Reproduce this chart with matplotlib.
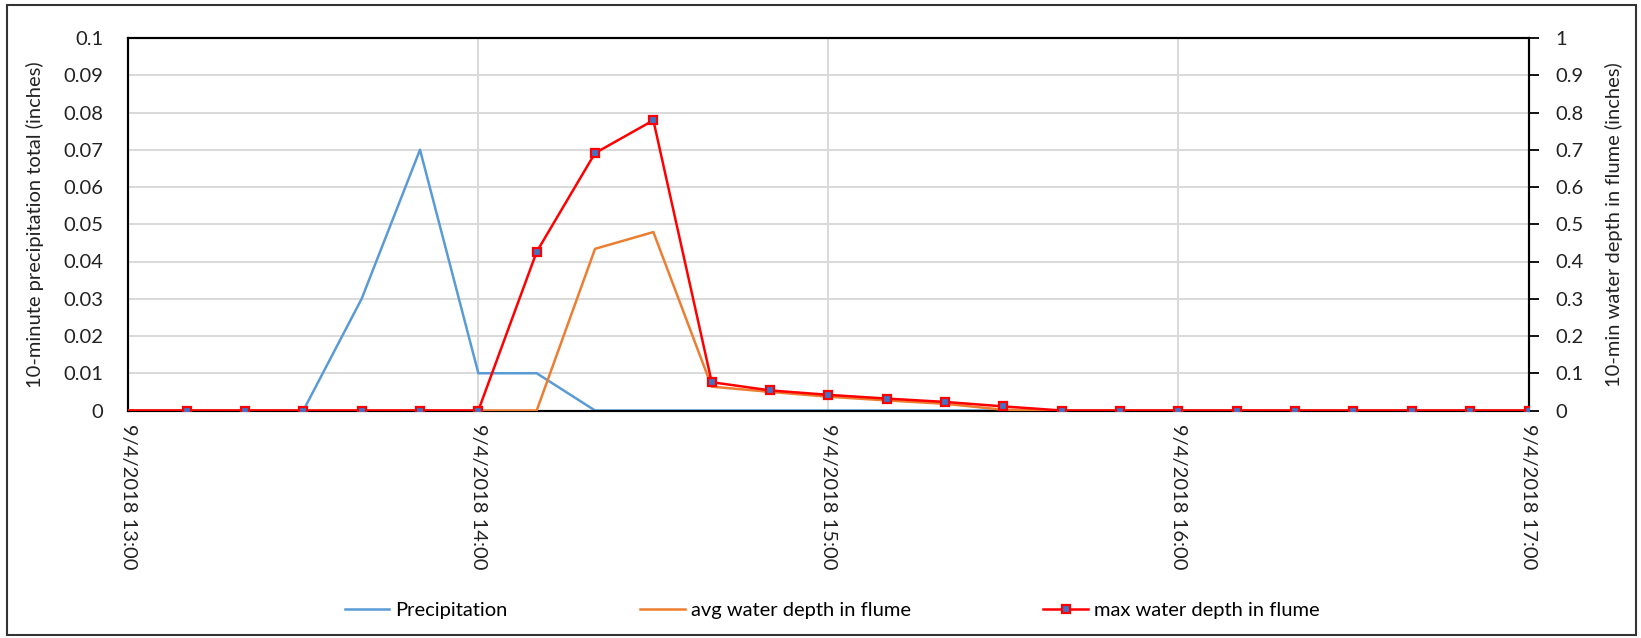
import matplotlib
matplotlib.use("Agg")
import matplotlib.pyplot as plt
import matplotlib.dates as mdates
from matplotlib.patches import Rectangle
import pandas as pd

times = ["2018-09-04 13:00", "2018-09-04 13:10", "2018-09-04 13:20", "2018-09-04 13:30",
         "2018-09-04 13:40", "2018-09-04 13:50", "2018-09-04 14:00", "2018-09-04 14:10",
         "2018-09-04 14:20", "2018-09-04 14:30", "2018-09-04 14:40", "2018-09-04 14:50",
         "2018-09-04 15:00", "2018-09-04 15:10", "2018-09-04 15:20", "2018-09-04 15:30",
         "2018-09-04 15:40", "2018-09-04 15:50", "2018-09-04 16:00", "2018-09-04 16:10",
         "2018-09-04 16:20", "2018-09-04 16:30", "2018-09-04 16:40", "2018-09-04 16:50",
         "2018-09-04 17:00"]
precipitation = [0, 0, 0, 0, 0.03, 0.07, 0.01, 0.01, 0, 0, 0, 0, 0,
                 0, 0, 0, 0, 0, 0, 0, 0, 0, 0, 0, 0]
avg_depth = [0, 0, 0, 0, 0, 0, 0, 0, 0.434, 0.479, 0.064, 0.050, 0.037,
             0.027, 0.018, 0.002, 0, 0, 0, 0, 0, 0, 0, 0, 0]
max_depth = [0, 0, 0, 0, 0, 0, 0, 0.426, 0.691, 0.779, 0.076, 0.054, 0.042,
             0.032, 0.023, 0.011, 0, 0, 0, 0, 0, 0, 0, 0, 0]
tick_times = ["2018-09-04 13:00", "2018-09-04 14:00", "2018-09-04 15:00",
              "2018-09-04 16:00", "2018-09-04 17:00"]
tick_labels = ["9/4/2018 13:00", "9/4/2018 14:00", "9/4/2018 15:00",
               "9/4/2018 16:00", "9/4/2018 17:00"]
left_ticks = [0, 0.01, 0.02, 0.03, 0.04, 0.05, 0.06, 0.07, 0.08, 0.09, 0.1]
left_tick_labels = ["0", "0.01", "0.02", "0.03", "0.04", "0.05", "0.06", "0.07", "0.08", "0.09", "0.1"]
right_ticks = [0, 0.1, 0.2, 0.3, 0.4, 0.5, 0.6, 0.7, 0.8, 0.9, 1.0]
right_tick_labels = ["0", "0.1", "0.2", "0.3", "0.4", "0.5", "0.6", "0.7", "0.8", "0.9", "1"]

FONT = ["Lato", "DejaVu Sans"]
NARROW = ["Liberation Sans Narrow", "Lato", "DejaVu Sans"]
plt.rcParams['font.family'] = FONT

x = pd.to_datetime(times)
xt = pd.to_datetime(tick_times)

W, H = 1641, 638
fig = plt.figure(figsize=(W / 100, H / 100), dpi=100)
left, right, top, bottom = 128.3, 1528.5, 38.0, 410.5
ax = fig.add_axes([left / W, 1 - bottom / H, (right - left) / W, (bottom - top) / H])
ax2 = ax.twinx()

grid_c = "#d9d9d9"
ax.set_ylim(0, 0.1)
ax2.set_ylim(0, 1)
ax.set_xlim(x[0], x[-1])

for v in left_ticks[1:-1]:
    ax.axhline(v, color=grid_c, lw=1.4, zorder=0)
for t in xt[1:-1]:
    ax.axvline(t, color=grid_c, lw=1.4, zorder=0)

ax.plot(x, precipitation, color="#5B9BD5", lw=1.8, label="Precipitation", zorder=3)
ax2.plot(x, avg_depth, color="#ED7D31", lw=1.8, label="avg water depth in flume", zorder=3)
ax2.plot(x, max_depth, color="#FF0000", lw=1.8, marker="s", markersize=6.2,
         markerfacecolor="#4472C4", markeredgecolor="#FF0000", markeredgewidth=1.6,
         markevery=list(range(1, len(x))), label="max water depth in flume", zorder=4)

ax.set_xticks(xt)
ax.set_xticklabels(tick_labels, rotation=-90, family=FONT, fontsize=14.5, color="#222222")
ax.tick_params(axis="x", length=0, pad=10)
ax.set_yticks(left_ticks)
ax.set_yticklabels(left_tick_labels, fontsize=14.5, color="#222222")
ax.tick_params(axis="y", length=0, pad=18)
ax2.set_yticks(right_ticks)
ax2.set_yticklabels(right_tick_labels, fontsize=14.5, color="#222222")
ax2.tick_params(axis="y", length=7, width=1.3, direction="out", pad=12)

for a in (ax, ax2):
    for s in a.spines.values():
        s.set_color("black")
        s.set_linewidth(1.5)
ax.spines["bottom"].set_zorder(2)

ax.set_ylabel("10-minute precipitation total (inches)", fontsize=14.5, labelpad=14, color="#222222")
ax2.set_ylabel("10-min water depth in flume (inches)", fontsize=14.5, labelpad=16, color="#222222")

h1, l1 = ax.get_legend_handles_labels()
h2, l2 = ax2.get_legend_handles_labels()
fig.legend(h1 + h2, l1 + l2, loc="center", bbox_to_anchor=(832 / W, 1 - 610 / H), ncol=3,
           frameon=False, prop={"family": NARROW, "size": 14.5}, handlelength=2.2,
           handletextpad=0.3, columnspacing=6.6)

fig.patches.append(Rectangle((7 / W, 3 / H), (1636 - 7) / W, (633 - 3) / H,
                             transform=fig.transFigure, fill=False, edgecolor="#333333",
                             lw=1.5))

fig.savefig("out.png", dpi=100)
